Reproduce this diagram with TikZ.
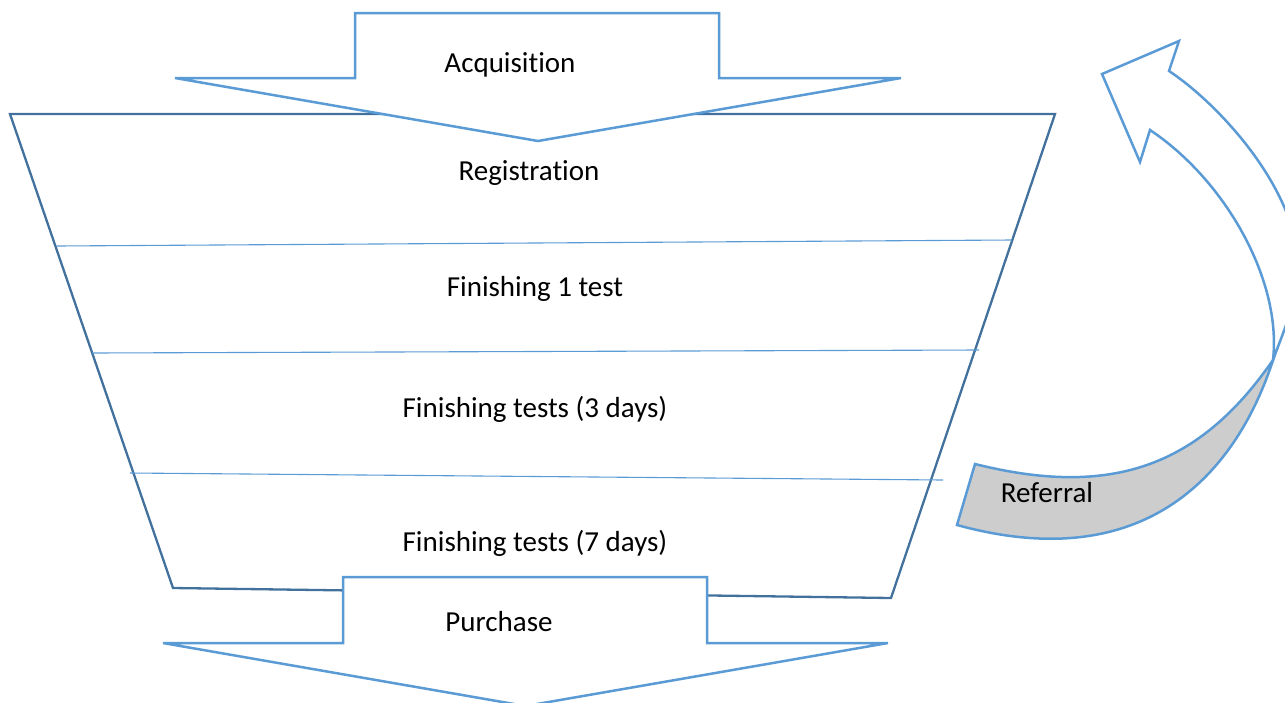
\documentclass[tikz,border=0pt]{standalone}
\usepackage{fontspec}
\setmainfont{Carlito}[Ligatures=NoCommon]
\definecolor{acc}{HTML}{5B9BD5}
\definecolor{dark}{HTML}{41719C}
\definecolor{bandgray}{HTML}{CDCDCD}
\begin{document}
\begin{tikzpicture}[x=1pt,y=-1pt,
  lbl/.style={inner sep=0pt,anchor=base,font=\fontsize{29}{34}\selectfont},
  funnel/.style={draw=dark,line width=2.3pt,line join=miter},
  divider/.style={draw=acc,line width=1.1pt},
  bigarrow/.style={draw=acc,line width=2.5pt,fill=white,line join=miter}]
\useasboundingbox (0,0) rectangle (1285,702);
\begin{scope}
\clip (0,0) rectangle (1285,702);
% funnel
\draw[funnel] (173,588) -- (10,114) -- (1055,114) -- (891,598) -- cycle;
% dividers
\draw[divider] (57,246) -- (1012,240);
\draw[divider] (92,353) -- (979,350);
\draw[divider] (130,473) -- (943,480);
% top arrow
\draw[bigarrow] (175,78) -- (355,78) -- (355,13) -- (719,13) -- (719,78) -- (901,78) -- (538,141) -- cycle;
% bottom arrow
\draw[bigarrow] (163,643) -- (343,643) -- (343,577) -- (707,577) -- (707,643) -- (888,643) -- (525.5,706) -- cycle;
% curved arrow: white front part
\draw[bigarrow] (1273,360) .. controls (1282,280) and (1225,180) .. (1150,130)
  -- (1140,162) -- (1102,74) -- (1179,41) -- (1169,71)
  .. controls (1219,104) and (1298,190) .. (1298,267)
  .. controls (1298,300) and (1282,335) .. (1273,360) -- cycle;
% curved arrow: grey back part
\draw[draw=acc,line width=2.5pt,fill=bandgray,line join=miter]
  (1273,360) .. controls (1238,468) and (1150,578) .. (957,525)
  -- (975,464)
  .. controls (1111,498) and (1199,467) .. (1273,360) -- cycle;
\end{scope}
% labels
\node[lbl] (acq) at (510,72) {Acquisition};
\node[lbl] (reg) at (529,180) {Registration};
\node[lbl] (f1) at (535,296) {Finishing 1 test};
\node[lbl] (f3) at (535,417) {Finishing tests (3 days)};
\node[lbl] (f7) at (535,551) {Finishing tests (7 days)};
\node[lbl] (pur) at (499,631) {Purchase};
\node[lbl] (ref) at (1047,502) {Referral};
\end{tikzpicture}
\end{document}
